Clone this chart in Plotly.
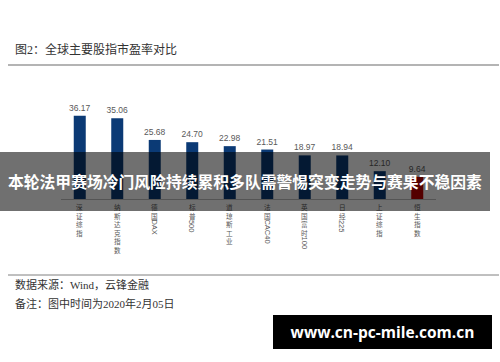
import re
import plotly.graph_objects as go

categories = ["深证综指", "纳斯达克指数", "德国DAX", "标普500", "道琼斯工业",
              "法国CAC40", "英国富时100", "日经225", "上证综指", "恒生指数"]
pe_values = [36.17, 35.06, 25.68, 24.70, 22.98, 21.51, 18.97, 18.94, 12.10, 9.64]
value_labels = ["36.17", "35.06", "25.68", "24.70", "22.98", "21.51", "18.97", "18.94", "12.10", "9.64"]
bar_colors = ["#0b3a75"] * 9 + ["#c00000"]

title_text = "图2：全球主要股指市盈率对比"
source_text = "数据来源：Wind，云锋金融"
note_text = "备注：图中时间为2020年2月05日"
banner_text = "本轮法甲赛场冷门风险持续累积多队需警惕突变走势与赛果不稳因素"
watermark_text = "www.cn-pc-mile.com.cn"

W, H = 500, 362
L, R, T, B = 61, 436, 107, 199
PW, PH = R - L, B - T


def px_x(px):
    return (px - L) / PW


def px_y(py):
    return (B - py) / PH


fig = go.Figure()
fig.add_trace(go.Bar(
    x=categories, y=pe_values, marker=dict(color=bar_colors, line=dict(width=0)),
    text=value_labels, textposition="outside", cliponaxis=False, constraintext="none",
    textfont=dict(family="Liberation Sans, Arial", size=8.5, color="#595959"),
    hoverinfo="skip",
))

annotations = []
cjk_re = re.compile(r"[\u4e00-\u9fff]+")
cfs = 6.6
step = cfs * 1.3
for cat in categories:
    y_cur = 201.0
    runs = re.findall(r"[\u4e00-\u9fff]+|[A-Za-z0-9]+", cat)
    for run in runs:
        if cjk_re.fullmatch(run):
            annotations.append(dict(
                x=cat, xref="x", y=px_y(y_cur), yref="paper",
                text="<br>".join(run), showarrow=False, xanchor="center", yanchor="top",
                borderpad=0,
                font=dict(family="Noto Sans CJK SC", size=cfs, color="#595959")))
            y_cur += step * len(run)
        else:
            annotations.append(dict(
                x=cat, xref="x", y=px_y(y_cur + 0.5), yref="paper",
                text=run, showarrow=False, xanchor="center", yanchor="top",
                textangle=90, borderpad=0,
                font=dict(family="Liberation Sans, Arial", size=7.5, color="#595959")))

# title
annotations.append(dict(
    x=px_x(13), xref="paper", y=px_y(50), yref="paper", text=title_text,
    showarrow=False, xanchor="left", yanchor="middle",
    font=dict(family="Liberation Serif, Noto Sans CJK SC", size=12, color="#333333")))
# footnotes
annotations.append(dict(
    x=px_x(13), xref="paper", y=px_y(284), yref="paper", text=source_text,
    showarrow=False, xanchor="left", yanchor="middle",
    font=dict(family="Liberation Serif, Noto Sans CJK SC", size=11, color="#333333")))
annotations.append(dict(
    x=px_x(13), xref="paper", y=px_y(303), yref="paper", text=note_text,
    showarrow=False, xanchor="left", yanchor="middle",
    font=dict(family="Liberation Serif, Noto Sans CJK SC", size=11, color="#333333")))
# banner
annotations.append(dict(
    x=px_x(0), xref="paper", y=px_y(152), yref="paper", text="<b>" + banner_text + "</b>",
    showarrow=False, xanchor="left", yanchor="top", width=490, height=59,
    bgcolor="rgba(0,0,0,0.56)", borderpad=0, borderwidth=0, align="center",
    font=dict(family="Noto Sans CJK SC", size=15.8, color="#ffffff")))
# watermark
annotations.append(dict(
    x=px_x(273), xref="paper", y=px_y(315), yref="paper", text="<b>" + watermark_text + "</b>",
    showarrow=False, xanchor="left", yanchor="top", width=219, height=34,
    bgcolor="#000000", borderpad=0, borderwidth=0, align="center",
    font=dict(family="Open Sans, DejaVu Sans", size=15.5, color="#ffffff")))

shapes = [
    dict(type="line", xref="paper", yref="paper", x0=px_x(8), x1=px_x(499),
         y0=px_y(65), y1=px_y(65), line=dict(color="#b4b4b4", width=2)),
    dict(type="line", xref="paper", yref="paper", x0=px_x(8), x1=px_x(499),
         y0=px_y(275), y1=px_y(275), line=dict(color="#808080", width=1)),
]

fig.update_layout(
    width=W, height=H, autosize=False,
    margin=dict(l=L, r=W - R, t=T, b=H - B, pad=0),
    paper_bgcolor="#ffffff", plot_bgcolor="#ffffff",
    showlegend=False, bargap=0.68,
    xaxis=dict(showticklabels=False, ticks="", showgrid=False, showline=True,
               linecolor="#bfbfbf", linewidth=1, zeroline=False, fixedrange=True),
    yaxis=dict(range=[0, 40], visible=False, showgrid=False, zeroline=False, fixedrange=True),
    annotations=annotations, shapes=shapes,
)

fig.write_html("out.html", config={"displayModeBar": False})
